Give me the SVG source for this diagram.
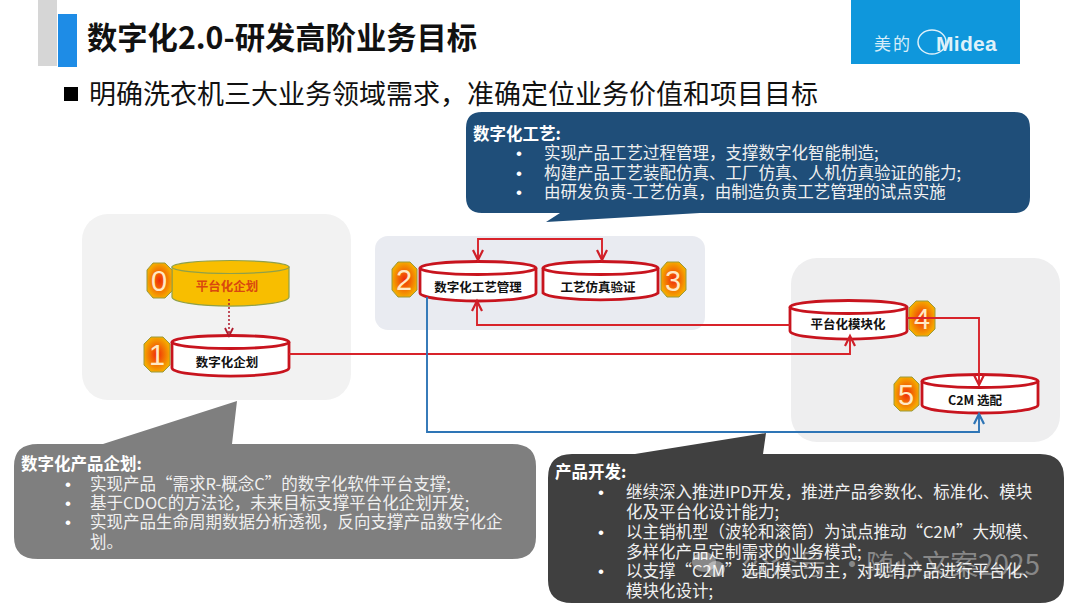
<svg xmlns="http://www.w3.org/2000/svg" width="1080" height="608" viewBox="0 0 1080 608">
<defs>
<style>
text{font-family:"Noto Sans CJK SC","Liberation Sans",sans-serif}
.h{font-weight:700;font-size:16.5px;fill:#fff}
.b{font-size:16.5px;fill:#f0f0f0}
.d{font-family:"Liberation Sans",sans-serif;font-size:17px;fill:#fff}
.n{font-weight:700;font-size:12.5px;fill:#111;text-anchor:middle}
.num{font-family:"Liberation Sans",sans-serif;font-size:29px;fill:#ffe9c4;text-anchor:middle}
.cyl{fill:#fff;stroke:#c8141e;stroke-width:2.8}
.oct{stroke:#9a9a3c;stroke-width:1;fill:url(#og)}
.r{fill:none;stroke:#d8232a;stroke-width:1.9}
.bl{fill:none;stroke:#2e75b6;stroke-width:1.9}
</style>
<radialGradient id="og"><stop offset="0" stop-color="#f02a08"/><stop offset="1" stop-color="#f5a800"/></radialGradient>
<marker id="ar" markerUnits="userSpaceOnUse" markerWidth="14" markerHeight="14" refX="11" refY="6" orient="auto-start-reverse"><path d="M1 1L11 6L1 11" fill="none" stroke="#cf1f28" stroke-width="2.2"/></marker>
<marker id="ab" markerUnits="userSpaceOnUse" markerWidth="14" markerHeight="14" refX="11" refY="6" orient="auto"><path d="M1 1L11 6L1 11" fill="none" stroke="#2e75b6" stroke-width="2.2"/></marker>
<marker id="ad" markerUnits="userSpaceOnUse" markerWidth="12" markerHeight="12" refX="9" refY="5" orient="auto"><path d="M1 1L9 5L1 9" fill="none" stroke="#b0182a" stroke-width="1.8"/></marker>
</defs>
<rect width="1080" height="608" fill="#fff"/>
<g id="header">
<rect x="38" y="0" width="19" height="66" fill="#d6d6d6"/>
<rect x="58" y="14" width="19" height="53" fill="#1e8ce6"/>
<text x="87" y="49" font-size="30.300" font-weight="700" fill="#111">数字化2.0-研发高阶业务目标</text>
<rect x="64" y="87" width="14" height="14" fill="#000"/>
<text x="89" y="104" font-size="27" fill="#111">明确洗衣机三大业务领域需求，准确定位业务价值和项目目标</text>
</g>
<g id="logo">
<rect x="851" y="0" width="169" height="64" fill="#0f97dc"/>
<text x="874" y="50" font-size="17" letter-spacing="2" fill="#d6edf9">美的</text>
<ellipse cx="932" cy="42" rx="14" ry="12" fill="none" stroke="#dff1fa" stroke-width="1.5"/>
<text x="936" y="51" style="font-family:'Liberation Sans',sans-serif" font-size="21" font-weight="700" letter-spacing="0.300" fill="#dff1fa">Midea</text>
</g>
<g id="panels">
<rect x="82" y="214" width="269" height="186" rx="26" fill="#f2f2f2"/>
<rect x="375" y="236" width="330" height="94" rx="13" fill="#e9ebf1"/>
<rect x="791" y="258" width="269" height="184" rx="26" fill="#eeeeef"/>
</g>
<g id="callout-craft">
<path d="M482 112H1014Q1030 112 1030 128V197Q1030 213 1014 213H700L546 222L560 213H482Q466 213 466 197V128Q466 112 482 112Z" fill="#1f4e79"/>
<text class="h" x="473" y="140">数字化工艺:</text>
<text x="516" y="159" class="d">•</text><text x="516" y="179" class="d">•</text><text x="516" y="198" class="d">•</text>
<text x="544" y="159" class="b">实现产品工艺过程管理，支撑数字化智能制造;</text>
<text x="544" y="179" class="b">构建产品工艺装配仿真、工厂仿真、人机仿真验证的能力;</text>
<text x="544" y="198" class="b">由研发负责-工艺仿真，由制造负责工艺管理的试点实施</text>
</g>
<g id="callout-planning">
<path d="M38 444H103L237 401L232 444H512Q536 444 536 466V537Q536 559 512 559H38Q14 559 14 537V466Q14 444 38 444Z" fill="#7f7f7f"/>
<text class="h" x="21" y="470">数字化产品企划:</text>
<text x="65" y="490" class="d">•</text><text x="65" y="509" class="d">•</text><text x="65" y="528" class="d">•</text>
<text x="90" y="490" class="b">实现产品“需求R-概念C”的数字化软件平台支撑;</text>
<text x="90" y="509" class="b">基于CDOC的方法论，未来目标支撑平台化企划开发;</text>
<text x="90" y="528" class="b">实现产品生命周期数据分析透视，反向支撑产品数字化企</text>
<text x="90" y="548" class="b">划。</text>
</g>
<g id="callout-dev">
<path d="M572 454H635L766 433L763 454H1040Q1064 454 1064 478V580Q1064 603 1040 603H572Q548 603 548 580V478Q548 454 572 454Z" fill="#404040"/>
<text class="h" x="555" y="478">产品开发:</text>
<text x="598" y="498" class="d">•</text><text x="598" y="538" class="d">•</text><text x="598" y="577" class="d">•</text>
<text x="626" y="498" class="b">继续深入推进IPD开发，推进产品参数化、标准化、模块</text>
<text x="626" y="518" class="b">化及平台化设计能力;</text>
<text x="626" y="538" class="b">以主销机型（波轮和滚筒）为试点推动“C2M”大规模、</text>
<text x="626" y="558" class="b">多样化产品定制需求的业务模式;</text>
<text x="626" y="577" class="b">以支撑“C2M”选配模式为主，对现有产品进行平台化、</text>
<text x="626" y="597" class="b">模块化设计;</text>
</g>
<g id="node-0">
<path d="M172 267V297A58 9 0 0 0 289 297V267Z" fill="#f8be00" stroke="#8fa04a" stroke-width="1.2"/>
<ellipse cx="230.500" cy="267" rx="58.500" ry="6.500" fill="#f8be00" stroke="#8fa04a" stroke-width="1.2"/>
<text class="n" x="227" y="291" style="fill:#d9480f">平台化企划</text>
<path class="oct" d="M153 263H165L172 270V291L165 298H153L147 291V270Z"/><text class="num" x="159" y="291">0</text>
</g>
<g id="node-1">
<path class="cyl" d="M172 342V368A58 8 0 0 0 289 368V342"/>
<ellipse class="cyl" cx="230.500" cy="342" rx="58.500" ry="6.500"/>
<text class="n" x="227" y="367">数字化企划</text>
<path class="oct" d="M151 337H163L170 344V365L163 372H151L144 365V344Z"/><text class="num" x="157" y="365">1</text>
</g>
<g id="node-2">
<path class="cyl" d="M420 268V293A58 8 0 0 0 536 293V268"/>
<ellipse class="cyl" cx="478" cy="268" rx="58" ry="6.500"/>
<text class="n" x="478" y="292">数字化工艺管理</text>
<path class="oct" d="M398 262H410L417 269V290L410 297H398L392 290V269Z"/><text class="num" x="404" y="290">2</text>
</g>
<g id="node-3">
<path class="cyl" d="M543 268V293A58 8 0 0 0 658 293V268"/>
<ellipse class="cyl" cx="600.500" cy="268" rx="57.500" ry="6.500"/>
<text class="n" x="598" y="292">工艺仿真验证</text>
<path class="oct" d="M667 262H679L686 269V290L679 297H667L661 290V269Z"/><text class="num" x="673" y="291">3</text>
</g>
<g id="node-4">
<path class="cyl" d="M790 307V331A58 8 0 0 0 907 331V307"/>
<ellipse class="cyl" cx="848.500" cy="307" rx="58.500" ry="6.500"/>
<text class="n" x="848" y="329">平台化模块化</text>
<path class="oct" d="M916 301H928L935 308V329L928 336H916L909 329V308Z"/><text class="num" x="922" y="329">4</text>
</g>
<g id="node-5">
<path class="cyl" d="M922 381V405A58 8 0 0 0 1038 405V381"/>
<ellipse class="cyl" cx="980" cy="381" rx="58" ry="6.500"/>
<text class="n" x="975" y="405">C2M 选配</text>
<path class="oct" d="M900 377H912L919 384V405L912 411H900L894 405V384Z"/><text class="num" x="906" y="405">5</text>
</g>
<g id="connectors">
<path d="M229 299V336" fill="none" stroke="#b0182a" stroke-width="1.500" stroke-dasharray="2 2" marker-end="url(#ad)"/>
<path d="M289 354H850V336" class="r" marker-end="url(#ar)"/>
<path d="M478 260V239H602V260" class="r" marker-start="url(#ar)" marker-end="url(#ar)"/>
<path d="M790 325H477V301" class="r" marker-end="url(#ar)"/>
<path d="M907 318H979V385" class="r" marker-end="url(#ar)"/>
<path d="M427 297V432H979V414" class="bl" marker-end="url(#ab)"/>
</g>
<g id="watermark" fill="#fff" fill-opacity="0.38">
<ellipse cx="704" cy="562" rx="12" ry="10"/><ellipse cx="716" cy="569" rx="9" ry="8"/>
<text y="575" font-size="28"><tspan x="742">公众号</tspan><tspan x="838">·</tspan><tspan x="866">随心文案2025</tspan></text>
</g>
</svg>
